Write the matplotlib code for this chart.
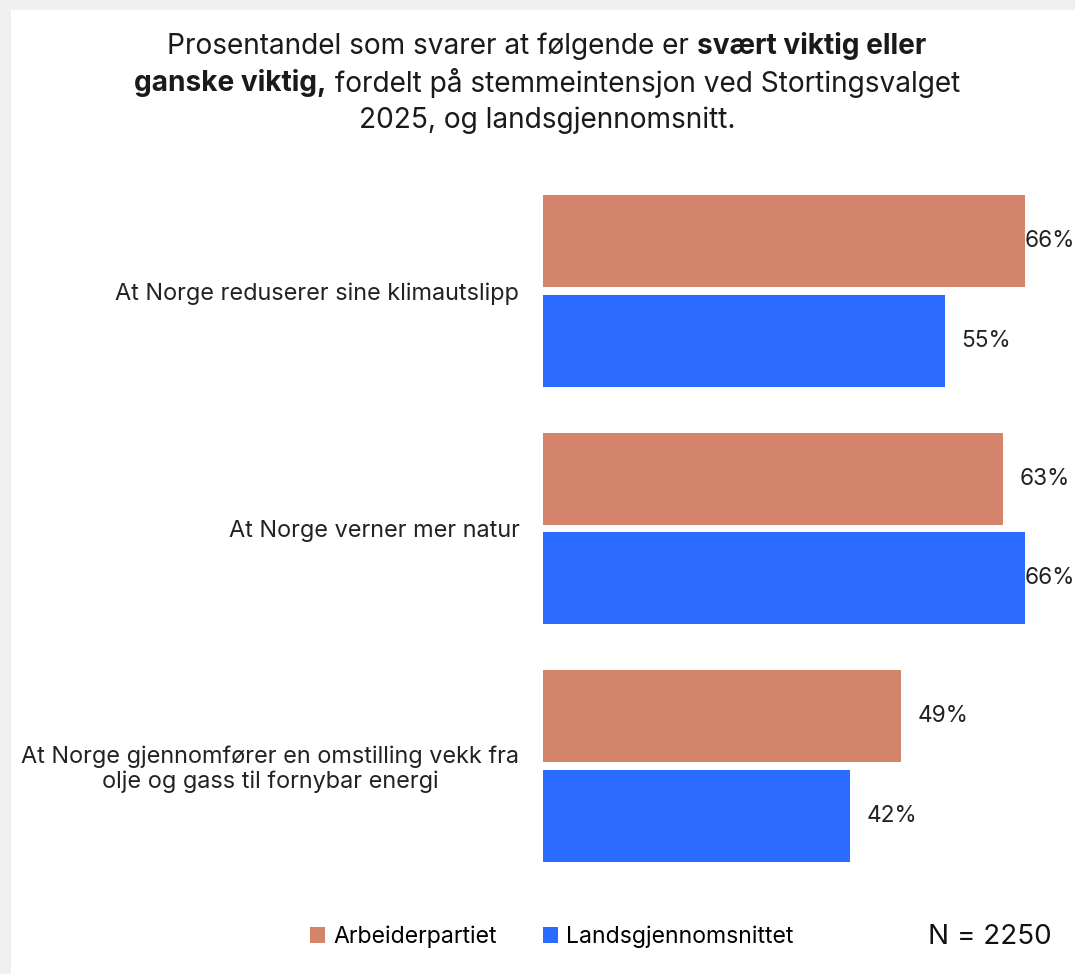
# Imports
import matplotlib
matplotlib.use("Agg")
import matplotlib.pyplot as plt
from matplotlib.patches import Rectangle, Patch

# Data
categories = [
    "At Norge reduserer sine klimautslipp",
    "At Norge verner mer natur",
    "At Norge gjennomfører en omstilling vekk fra\nolje og gass til fornybar energi",
]
series_names = ["Arbeiderpartiet", "Landsgjennomsnittet"]
ap_values = [66, 63, 49]
avg_values = [55, 66, 42]
colors = ["#D4846A", "#2B6BFF"]

title_lines = [
    [("Prosentandel som svarer at følgende er ", False), ("svært viktig eller", True)],
    [("ganske viktig,", True), (" fordelt på stemmeintensjon ved Stortingsvalget", False)],
    [("2025, og landsgjennomsnitt.", False)],
]
n_text = "N = 2250"

plt.rcParams["font.family"] = ["Inter", "DejaVu Sans"]

W, H = 1075, 974
fig = plt.figure(figsize=(W / 100, H / 100), dpi=100)
fig.patch.set_facecolor("#f0f0f0")
fig.patches.append(Rectangle((11 / W, 0), 1 - 11 / W, 1 - 10 / H,
                             transform=fig.transFigure, facecolor="white",
                             edgecolor="none", zorder=-10))

# Axes placement
ax = fig.add_axes([543 / W, 1 - 880 / H, 1 - 543 / W, (880 - 180) / H])
ax.set_zorder(5)
ax.set_facecolor("none")
xmax = (W - 543) / ((1025 - 543) / 66)
ax.set_xlim(0, xmax)
ax.set_ylim(2 + (880 - 766) / 237.5, -(291 - 180) / 237.5)

bar_h = 0.387
off = 0.21
ys = list(range(len(categories)))
ax.barh([y - off for y in ys], ap_values, height=bar_h, color=colors[0])
ax.barh([y + off for y in ys], avg_values, height=bar_h, color=colors[1])

# Value labels (pushed against the right edge when there is no room)
px_per_unit = (1025 - 543) / 66
label_w = 47 / px_per_unit
for vals, sign in [(ap_values, -1), (avg_values, 1)]:
    for y, v in zip(ys, vals):
        x = v + 17 / px_per_unit
        if x + label_w > xmax:
            ax.text(xmax - 0.5 / px_per_unit, y + sign * off, f"{v}%", ha="right",
                    va="center", fontsize=16.3, color="#222222", clip_on=False)
        else:
            ax.text(x, y + sign * off, f"{v}%", ha="left", va="center",
                    fontsize=16.3, color="#222222")

ax.set_yticks(ys)
ax.set_yticklabels(categories, fontsize=16.9, color="#222222",
                   multialignment="center", linespacing=1.1)
ax.tick_params(axis="y", length=0, pad=17)
ax.set_xticks([])
for s in ax.spines.values():
    s.set_visible(False)

# Title with mixed bold
fig.canvas.draw()
renderer = fig.canvas.get_renderer()
line_ys = [46, 83, 120]
for segs, ly in zip(title_lines, line_ys):
    texts = []
    for txt, bold in segs:
        t = fig.text(0, 1 - ly / H, txt, fontsize=20.2, va="center", ha="left",
                     fontweight="bold" if bold else "normal", color="#1a1a1a")
        texts.append(t)
    widths = [t.get_window_extent(renderer).width for t in texts]
    x0 = 547 - sum(widths) / 2
    for t, w in zip(texts, widths):
        t.set_x(x0 / W)
        x0 += w

# Legend
handles = [Patch(facecolor=c, edgecolor="none") for c in colors]
fig.legend(handles, series_names, loc="center", bbox_to_anchor=(552 / W, 1 - 937 / H),
           ncol=2, frameon=False, fontsize=16.6, handlelength=0.65, handleheight=0.65,
           handletextpad=0.35, columnspacing=2.0)

fig.text(1052 / W, 1 - 937 / H, n_text, ha="right", va="center", fontsize=20,
         color="#111111")

fig.savefig("out.png", dpi=100)
